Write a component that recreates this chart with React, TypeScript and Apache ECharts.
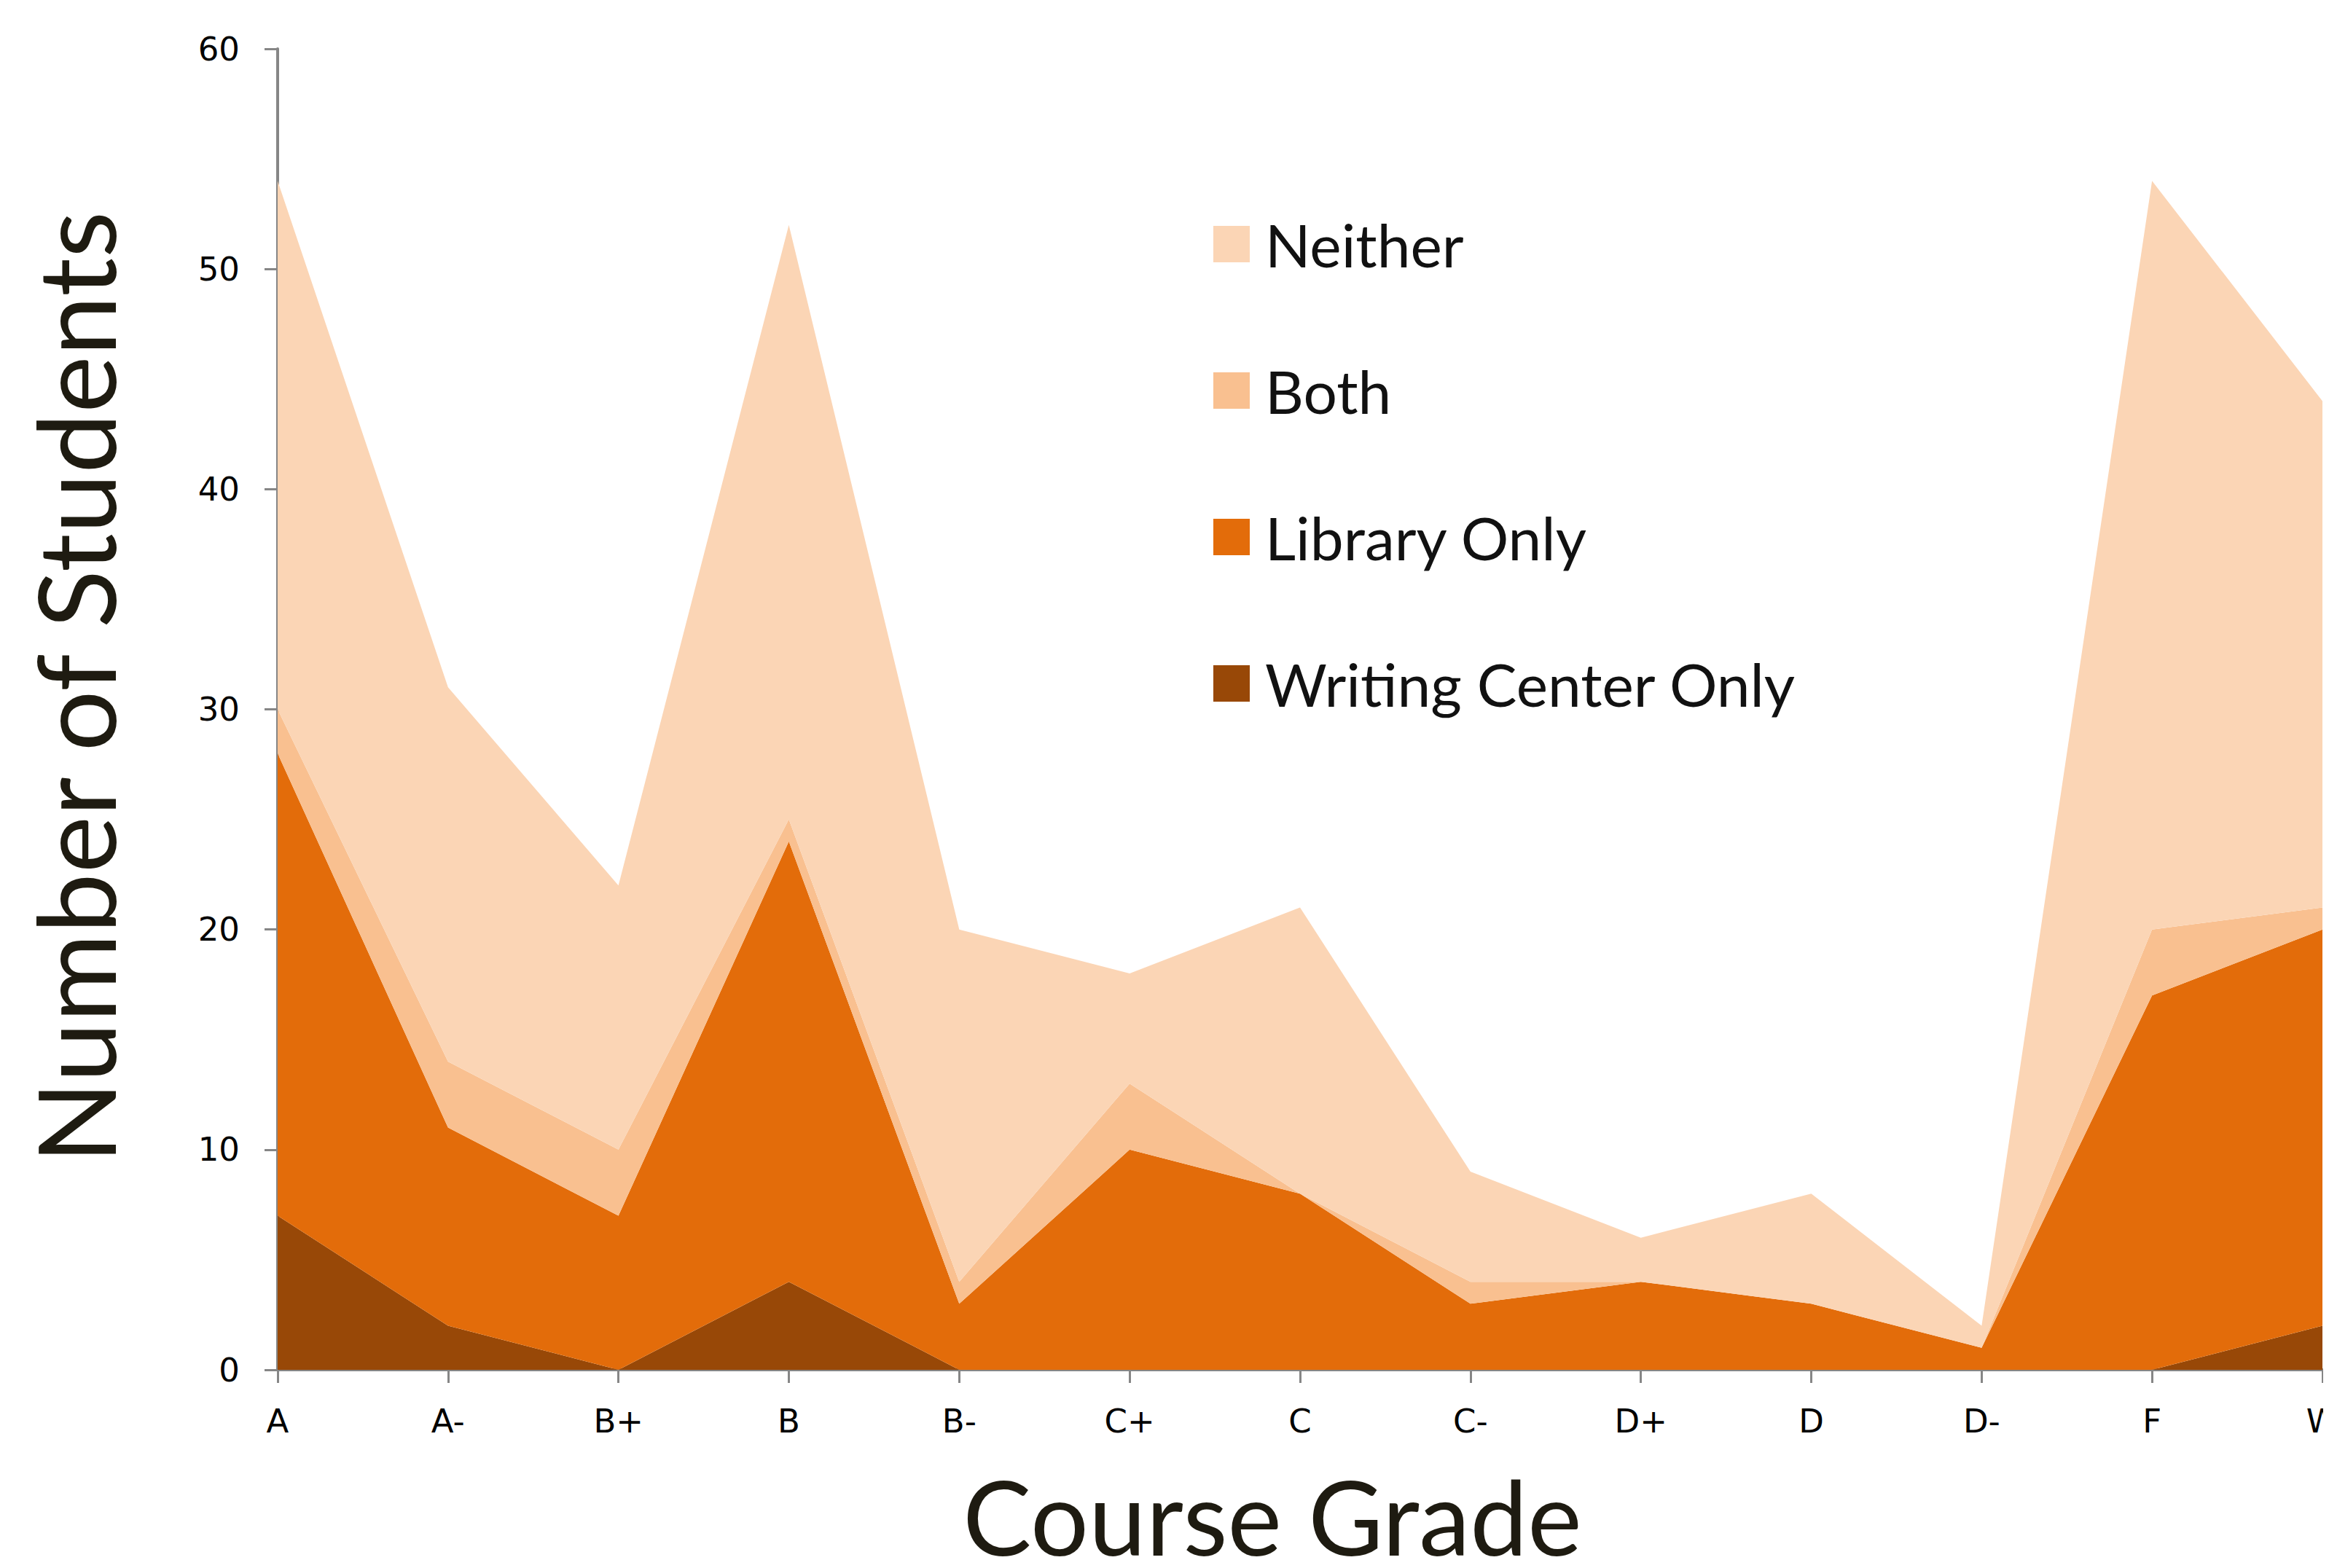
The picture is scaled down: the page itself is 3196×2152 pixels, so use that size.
import React, { useEffect, useRef } from "react";
import * as echarts from "echarts";

const grades = ["A", "A-", "B+", "B", "B-", "C+", "C", "C-", "D+", "D", "D-", "F", "W"];
const writingCenterOnly = [7, 2, 0, 4, 0, 0, 0, 0, 0, 0, 0, 0, 2];
const libraryOnly = [21, 9, 7, 20, 3, 10, 8, 3, 4, 3, 1, 17, 18];
const both = [2, 3, 3, 1, 1, 3, 0, 1, 0, 0, 0, 3, 1];
const neither = [24, 17, 12, 27, 16, 5, 13, 5, 2, 5, 1, 34, 23];
const legendOrder = ["Neither", "Both", "Library Only", "Writing Center Only"];

const colors = {
  neither: "#FBD5B5",
  both: "#F9C090",
  library: "#E36C0A",
  wc: "#984807",
};

export default function App() {
  const ref = useRef<HTMLDivElement>(null);
  useEffect(() => {
    if (!ref.current) return;
    const chart = echarts.init(ref.current, undefined, { renderer: "svg" });
    const font = "Lato, 'Open Sans', sans-serif";
    const tickFont = "'DejaVu Sans', sans-serif";
    const mk = (name: string, data: number[], color: string) => ({
      name,
      type: "line",
      stack: "total",
      data,
      symbol: "none",
      showSymbol: false,
      lineStyle: { width: 0 },
      areaStyle: { color, opacity: 1 },
      itemStyle: { color },
      emphasis: { disabled: true },
    });
    chart.setOption({
      animation: false,
      backgroundColor: "#ffffff",
      grid: {
        left: 373,
        right: 1,
        top: 59,
        bottom: 264,
        containLabel: false,
        outerBoundsMode: "none",
      },
      legend: {
        orient: "vertical",
        left: 1652,
        top: 281,
        itemWidth: 50,
        itemHeight: 50,
        itemGap: 119,
        icon: "rect",
        data: legendOrder,
        textStyle: { fontFamily: font, fontSize: 82, color: "#111111", padding: [0, 0, 0, 16] },
      },
      xAxis: {
        type: "category",
        data: grades,
        boundaryGap: false,
        axisLine: { lineStyle: { color: "#868686", width: 4 } },
        axisTick: { show: true, length: 18, lineStyle: { color: "#868686", width: 3 } },
        axisLabel: {
          fontFamily: tickFont,
          fontSize: 45,
          color: "#000",
          margin: 48,
          interval: 0,
          hideOverlap: false,
        },
        name: "Course Grade",
        nameLocation: "middle",
        nameGap: 140,
        nameTextStyle: {
          fontFamily: font,
          fontSize: 141,
          lineHeight: 120,
          color: "#1e1b11",
          padding: [0, 76, 0, 0],
        },
      },
      yAxis: {
        type: "value",
        min: 0,
        max: 60,
        interval: 10,
        axisLine: { show: true, lineStyle: { color: "#868686", width: 4 } },
        axisTick: { show: true, length: 18, lineStyle: { color: "#868686", width: 3 } },
        splitLine: { show: false },
        axisLabel: {
          fontFamily: tickFont,
          fontSize: 45,
          color: "#000",
          margin: 52,
        },
        name: "Number of Students",
        nameLocation: "middle",
        nameGap: 205,
        nameRotate: 90,
        nameTextStyle: { fontFamily: font, fontSize: 148, color: "#1e1b11", padding: [0, 0, 0, 60] },
      },
      series: [
        mk("Writing Center Only", writingCenterOnly, colors.wc),
        mk("Library Only", libraryOnly, colors.library),
        mk("Both", both, colors.both),
        mk("Neither", neither, colors.neither),
      ],
    });
    return () => chart.dispose();
  }, []);
  return <div ref={ref} style={{ width: 3180, height: 2136 }} />;
}
